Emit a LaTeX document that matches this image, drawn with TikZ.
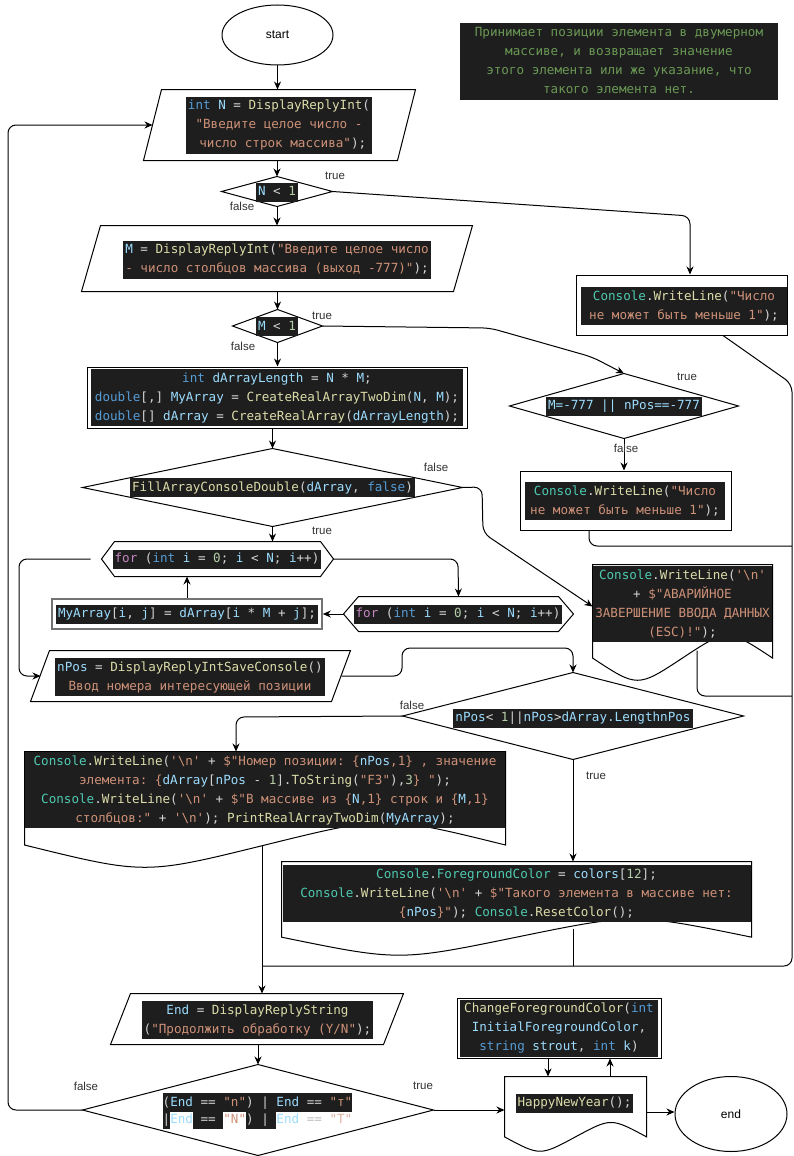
\documentclass[tikz,border=0pt]{standalone}
\usepackage{fontspec}
\setmonofont{DejaVu Sans Mono}
\newfontfamily\lblfont{Liberation Sans}
\usetikzlibrary{shapes.geometric,arrows.meta,calc}

% editor-style palette
\definecolor{codebg}{HTML}{1E1E1E}
\definecolor{codefg}{HTML}{D4D4D4}
\definecolor{kwc}{HTML}{569CD6}
\definecolor{varc}{HTML}{9CDCFE}
\definecolor{fnc}{HTML}{DCDCAA}
\definecolor{strc}{HTML}{CE9178}
\definecolor{numc}{HTML}{B5CEA8}
\definecolor{clsc}{HTML}{4EC9B0}
\definecolor{ctlc}{HTML}{C586C0}
\definecolor{cmtc}{HTML}{6A9955}
\definecolor{lblc}{HTML}{333333}

\newcommand\cKw[1]{\textcolor{kwc}{#1}}
\newcommand\cVar[1]{\textcolor{varc}{#1}}
\newcommand\cFn[1]{\textcolor{fnc}{#1}}
\newcommand\cStr[1]{\textcolor{strc}{#1}}
\newcommand\cNum[1]{\textcolor{numc}{#1}}
\newcommand\cCls[1]{\textcolor{clsc}{#1}}
\newcommand\cCtl[1]{\textcolor{ctlc}{#1}}
\newcommand\codefs{\ttfamily\fontsize{12.6}{19}\selectfont}
\newcommand\termfont{\lblfont\fontsize{12}{14}\selectfont}
\newcommand\brk{\\\strut}
\newcommand\sqt{\textquotesingle}
\newcommand\nlq{\sqt\textbackslash n\sqt}
\newcommand\hlbg[1]{{\setlength{\fboxsep}{0pt}\colorbox{codebg}{\strut#1}}}

% outlines drawn around invisible bounding-box nodes
\newcommand\paraOutline[2]{\draw[outline] ($(#1.north west)+(#2,0)$) -- (#1.north east) -- ($(#1.south east)+(-#2,0)$) -- (#1.south west) -- cycle;}
\newcommand\diaOutline[1]{\draw[outline] (#1.north) -- (#1.east) -- (#1.south) -- (#1.west) -- cycle;}
\newcommand\hexOutline[2]{\draw[outline] (#1.west) -- ($(#1.north west)+(#2,0)$) -- ($(#1.north east)+(-#2,0)$) -- (#1.east) -- ($(#1.south east)+(-#2,0)$) -- ($(#1.south west)+(#2,0)$) -- cycle;}
\newcommand\docOutline[1]{\draw[outline] let \p1=(#1.north west), \p2=(#1.south east) in
  (\p1) -- (\x2,\y1) -- (\x2,{\y2+0.15*(\y1-\y2)})
  .. controls ({\x1+0.75*(\x2-\x1)},{\y2+0.42*(\y1-\y2)}) .. ({0.5*(\x1+\x2)},{\y2+0.15*(\y1-\y2)})
  .. controls ({\x1+0.25*(\x2-\x1)},{\y2-0.12*(\y1-\y2)}) .. (\x1,{\y2+0.15*(\y1-\y2)}) -- cycle;}

\begin{document}
\begin{tikzpicture}[x=1pt,y=-1pt,line width=1pt,
  every node/.style={inner sep=0pt},
  box/.style={rectangle,draw=none,inner sep=0pt},
  procbox/.style={rectangle,draw=black,line width=1pt,inner sep=0pt},
  outline/.style={draw=black,line width=1pt},
  code/.style={font=\codefs,fill=codebg,text=codefg,inner xsep=2pt,inner ysep=0pt,align=center},
  lbl/.style={font=\lblfont\fontsize{11.5}{13}\selectfont,text=lblc},
  arr/.style={-{Stealth[length=8pt,width=7pt]},line width=1pt},
  conn/.style={rounded corners=8pt},
]
\fill[white] (0,0) rectangle (794,1156);
\useasboundingbox (0,0) rectangle (794,1156);

% ---------- shapes ----------
\node[ellipse,draw,minimum width=111pt,minimum height=60pt,font=\termfont] (start) at (277.5,35) {start};

\node[box,minimum width=271pt,minimum height=70pt] (p1) at (279.5,125) {};
\paraOutline{p1}{18}
\node[box,minimum width=110pt,minimum height=29pt] (d1) at (277,191.5) {};
\diaOutline{d1}
\node[box,minimum width=390pt,minimum height=65pt] (p2) at (277,258.5) {};
\paraOutline{p2}{19}
\node[procbox,minimum width=211pt,minimum height=60pt] (b1) at (681.5,305) {};
\node[box,minimum width=89pt,minimum height=32pt] (d2) at (277.5,326) {};
\diaOutline{d2}
\node[box,minimum width=228pt,minimum height=64pt] (d3) at (624,406) {};
\diaOutline{d3}
\node[procbox,minimum width=211pt,minimum height=59pt] (b2) at (625.5,500.5) {};
\node[procbox,minimum width=380pt,minimum height=61pt] (b3) at (277,397.5) {};
\node[box,minimum width=379pt,minimum height=77pt] (d4) at (272.5,487.5) {};
\diaOutline{d4}
\node[box,minimum width=231pt,minimum height=34pt] (f1) at (217.5,559) {};
\hexOutline{f1}{13}
\node[box,minimum width=229pt,minimum height=34pt] (f2) at (458.5,614) {};
\hexOutline{f2}{15}
\node[rectangle,draw=black!55,line width=1.6pt,minimum width=270pt,minimum height=30pt] (my) at (187,614) {};
\node[box,minimum width=179pt,minimum height=109pt] (esc) at (682.5,619.5) {};
\docOutline{esc}
\node[box,minimum width=319pt,minimum height=50pt] (pn) at (190.5,676) {};
\paraOutline{pn}{19}
\node[box,minimum width=340pt,minimum height=86pt] (d5) at (573,716) {};
\diaOutline{d5}
\node[box,minimum width=480pt,minimum height=109pt] (doc1) at (265,806.5) {};
\docOutline{doc1}
\node[box,minimum width=469pt,minimum height=88pt] (doc2) at (516.5,906) {};
\docOutline{doc2}
\node[box,minimum width=292pt,minimum height=50pt] (pE) at (257,1019) {};
\paraOutline{pE}{20}
\node[box,minimum width=350pt,minimum height=90pt] (d6) at (258,1110) {};
\diaOutline{d6}
\node[procbox,minimum width=204pt,minimum height=60pt] (cfc) at (559,1028) {};
\node[box,minimum width=141pt,minimum height=70pt] (hny) at (575.5,1112) {};
\docOutline{hny}
\node[ellipse,draw,minimum width=112pt,minimum height=75pt,font=\termfont] (end) at (731,1114) {end};

% ---------- code texts ----------
\node[code,text=cmtc,minimum width=318pt,minimum height=75pt] (note) at (619,61.5)
  {\strut Принимает позиции элемента в двумерном\brk массиве, и возвращает значение\brk этого элемента или же указание, что\brk такого элемента нет.};

\node[code] (p1t) at (279,125)
  {\strut\cKw{int} \cVar{N} = \cFn{DisplayReplyInt}(\brk\cStr{"Введите целое число -}\brk\cStr{\ число строк массива"});};
\node[code] (d1t) at (277,192) {\strut\cVar{N} < \cNum{1}};
\node[code] (p2t) at (277,259.5)
  {\strut\cVar{M} = \cFn{DisplayReplyInt}(\cStr{"Введите целое число}\brk\cStr{- число столбцов массива (выход -777)"});};
\node[code,minimum width=206pt] (b1t) at (684,306)
  {\strut\cCls{Console}.\cFn{WriteLine}(\cStr{"Число}\brk\cStr{не может быть меньше 1"});};
\node[code] (d2t) at (277,326.5) {\strut\cVar{M} < \cNum{1}};
\node[code] (d3t) at (624,406) {\strut\cVar{M=-777 || nPos==-777}};
\node[code,minimum width=200pt] (b2t) at (625,501)
  {\strut\cCls{Console}.\cFn{WriteLine}(\cStr{"Число}\brk\cStr{не может быть меньше 1"});};
\node[code,minimum width=372pt] (b3t) at (277,397.5)
  {\strut\cKw{int} \cVar{dArrayLength} = \cVar{N} * \cVar{M};\brk\cKw{double}[,] \cVar{MyArray} = \cFn{CreateRealArrayTwoDim}(\cVar{N}, \cVar{M});\brk\cKw{double}[] \cVar{dArray} = \cFn{CreateRealArray}(\cVar{dArrayLength});};
\node[code] (d4t) at (272.5,487.5) {\strut\cFn{FillArrayConsoleDouble}(\cVar{dArray}, \cKw{false})};
\node[code] (f1t) at (217,559) {\strut\cCtl{for} (\cKw{int} \cVar{i} = \cNum{0}; \cVar{i} < \cVar{N}; \cVar{i}++)};
\node[code] (f2t) at (458,614) {\strut\cCtl{for} (\cKw{int} \cVar{i} = \cNum{0}; \cVar{i} < \cVar{N}; \cVar{i}++)};
\node[code] (myt) at (187,614) {\strut\cVar{MyArray}[\cVar{i}, \cVar{j}] = \cVar{dArray}[\cVar{i} * \cVar{M} + \cVar{j}];};
\node[code,minimum width=179pt] (esct) at (682.5,604)
  {\strut\cCls{Console}.\cFn{WriteLine}(\cStr{\nlq}\brk+ \cStr{\$"АВАРИЙНОЕ}\brk\cStr{ЗАВЕРШЕНИЕ ВВОДА ДАННЫХ}\brk\cStr{(ESC)!"});};
\node[code] (pnt) at (190,677)
  {\strut\cVar{nPos} = \cFn{DisplayReplyIntSaveConsole}()\brk\cStr{Ввод номера интересующей позиции}};
\node[code] (d5t) at (573,718) {\strut\cVar{nPos}< \cNum{1}||\cVar{nPos}>\cVar{dArray.LengthnPos}};
\node[code,minimum width=480pt] (doc1t) at (265,790)
  {\strut\cCls{Console}.\cFn{WriteLine}(\cStr{\nlq} + \cStr{\$"Номер позиции: \{}\cVar{nPos}\cStr{,1\} , значение}\brk
   \cStr{элемента: \{}\cVar{dArray}[\cVar{nPos} - \cNum{1}].\cFn{ToString}(\cStr{"F3"}),\cNum{3}\cStr{\} "});\brk
   \cCls{Console}.\cFn{WriteLine}(\cStr{\nlq} + \cStr{\$"В массиве из \{}\cVar{N}\cStr{,1\} строк и \{}\cVar{M}\cStr{,1\}}\brk
   \cStr{столбцов:"} + \cStr{\nlq}); \cFn{PrintRealArrayTwoDim}(\cVar{MyArray});};
\node[code,minimum width=468pt] (doc2t) at (516.5,893.5)
  {\strut\cCls{Console}.\cCls{ForegroundColor} = \cVar{colors}[\cNum{12}];\brk
   \cCls{Console}.\cFn{WriteLine}(\cStr{\nlq} + \cStr{\$"Такого элемента в массиве нет:}\brk
   \cStr{\{}\cVar{nPos}\cStr{\}"}); \cCls{Console}.\cFn{ResetColor}();};
\node[code] (pEt) at (257.5,1020)
  {\strut\cVar{End} = \cFn{DisplayReplyString}\brk(\cStr{"Продолжить обработку (Y/N"});};
\node[code,fill=none] (d6t) at (257.5,1111)
  {\hlbg{(\cVar{End} == \cStr{"n"}) | \cVar{End} == \cStr{"т"}}\\[-2pt]
   \hlbg{|}\cVar{End}\hlbg{ == }\cStr{"N"}\hlbg{) | }\cVar{End}\textcolor{black!25}{\ == }\textcolor{strc!70}{"Т"}\strut};
\node[code,minimum width=198pt] (cfct) at (559,1028)
  {\strut\cFn{ChangeForegroundColor}(\cKw{int}\brk\cVar{InitialForegroundColor},\brk\cKw{string} \cVar{strout}, \cKw{int} \cVar{k})};
\node[code] (hnyt) at (574.5,1103) {\strut\cFn{HappyNewYear}();};

% ---------- waypoints ----------
\coordinate (w1) at (690,216);
\coordinate (w2) at (490,328);
\coordinate (w3) at (592,357);
\coordinate (w4) at (482,487);
\coordinate (w5) at (483,533);
\coordinate (w6) at (458,559);
\coordinate (w7) at (19,559);
\coordinate (w8) at (19,676);
\coordinate (w9) at (402,676);
\coordinate (w10) at (402,648);
\coordinate (w11) at (573,648);
\coordinate (w12) at (236,717);
\coordinate (m1) at (792,384);
\coordinate (m2) at (792,966);
\coordinate (m3) at (262,966);
\coordinate (m4) at (792,546);
\coordinate (m5) at (792,696);
\coordinate (l1) at (8,1110);
\coordinate (l2) at (8,125);
\coordinate (j1) at ($(doc1.south)+(-3,-16)$);
\coordinate (j2) at ($(doc2.south)+(56.5,-22)$);
\coordinate (j3) at ($(esc.south)+(14.5,-24)$);
\coordinate (j4) at ($(b1.south)+(41.5,0)$);
\coordinate (j5) at ($(b2.south)+(-36.5,0)$);

% ---------- connectors ----------
\draw[arr] (start.south) -- (start.south |- p1.north);
\draw[arr] (d1.north |- p1.south) -- (d1.north);
\draw[arr] (d1.south) -- (d1.south |- p2.north);
\draw[arr,conn] (d1.east) -- (w1) -- (b1.north -| w1);
\draw[arr] (d2.north |- p2.south) -- (d2.north);
\draw[arr] (d2.south) -- (d2.south |- b3.north);
\draw[arr,conn] (d2.east) -- (w2) -- (w3) -- (d3.north);
\draw[arr] (d3.south) -- (d3.south |- b2.north);
\draw[arr] (d4.north |- b3.south) -- (d4.north);
\draw[arr] (d4.south) -- (d4.south |- f1.north);
\draw[arr,conn] (d4.east) -- (w4) -- (w5) -- ($(esc.west)+(0,-13)$);
\draw[arr,conn] (f1.east) -- (w6) -- (f2.north);
\draw[arr] (f2.west) -- (my.east);
\draw[arr] (my.north) -- (my.north |- f1.south);
\draw[arr,conn] ($(f1.west)+(-11,0)$) -- (w7) -- (w8) -- ($(pn.west)+(10,0)$);
\draw[arr,conn] ($(pn.east)+(-9,0)$) -- (w9) -- (w10) -- (w11) -- (d5.north);
\draw[arr,conn] (d5.west) -- (w12) -- (doc1.north -| w12);
\draw[arr] (d5.south) -- (d5.south |- doc2.north);
\draw[conn] (j4) -- (m1) -- (m2) -- (m3);
\draw[conn] (j5) |- (m4);
\draw[conn] (j3) |- (m5);
\draw (j2) -- (j2 |- m2);
\draw[arr] (j1) -- (j1 |- pE.north);
\draw[arr] (d6.north |- pE.south) -- (d6.north);
\draw[arr,conn] (d6.west) -- (l1) -- (l2) -- ($(p1.west)+(9,0)$);
\draw[arr] (d6.east) -- (d6.east -| hny.west);
\draw[arr] (hny.east) -- (hny.east -| end.west);
\draw[arr] ([xshift=-11pt]cfc.south) -- ([xshift=-11pt]cfc.south |- hny.north);
\draw[arr] ([xshift=51pt]cfc.south |- hny.north) -- ([xshift=51pt]cfc.south);

% ---------- branch labels ----------
\node[lbl] (lt1) at (335,176) {true};
\node[lbl] (lf1) at (242,206) {false};
\node[lbl] (lt2) at (322,316) {true};
\node[lbl] (lf2) at (243,346) {false};
\node[lbl] (lt3) at (687,377) {true};
\node[lbl] (lf3) at (626,448) {false};
\node[lbl] (lf4) at (436,467) {false};
\node[lbl] (lt4) at (322,531) {true};
\node[lbl] (lf5) at (412,705) {false};
\node[lbl] (lt5) at (596,776) {true};
\node[lbl] (lf6) at (86,1086) {false};
\node[lbl] (lt6) at (423,1086) {true};
\end{tikzpicture}
\end{document}
